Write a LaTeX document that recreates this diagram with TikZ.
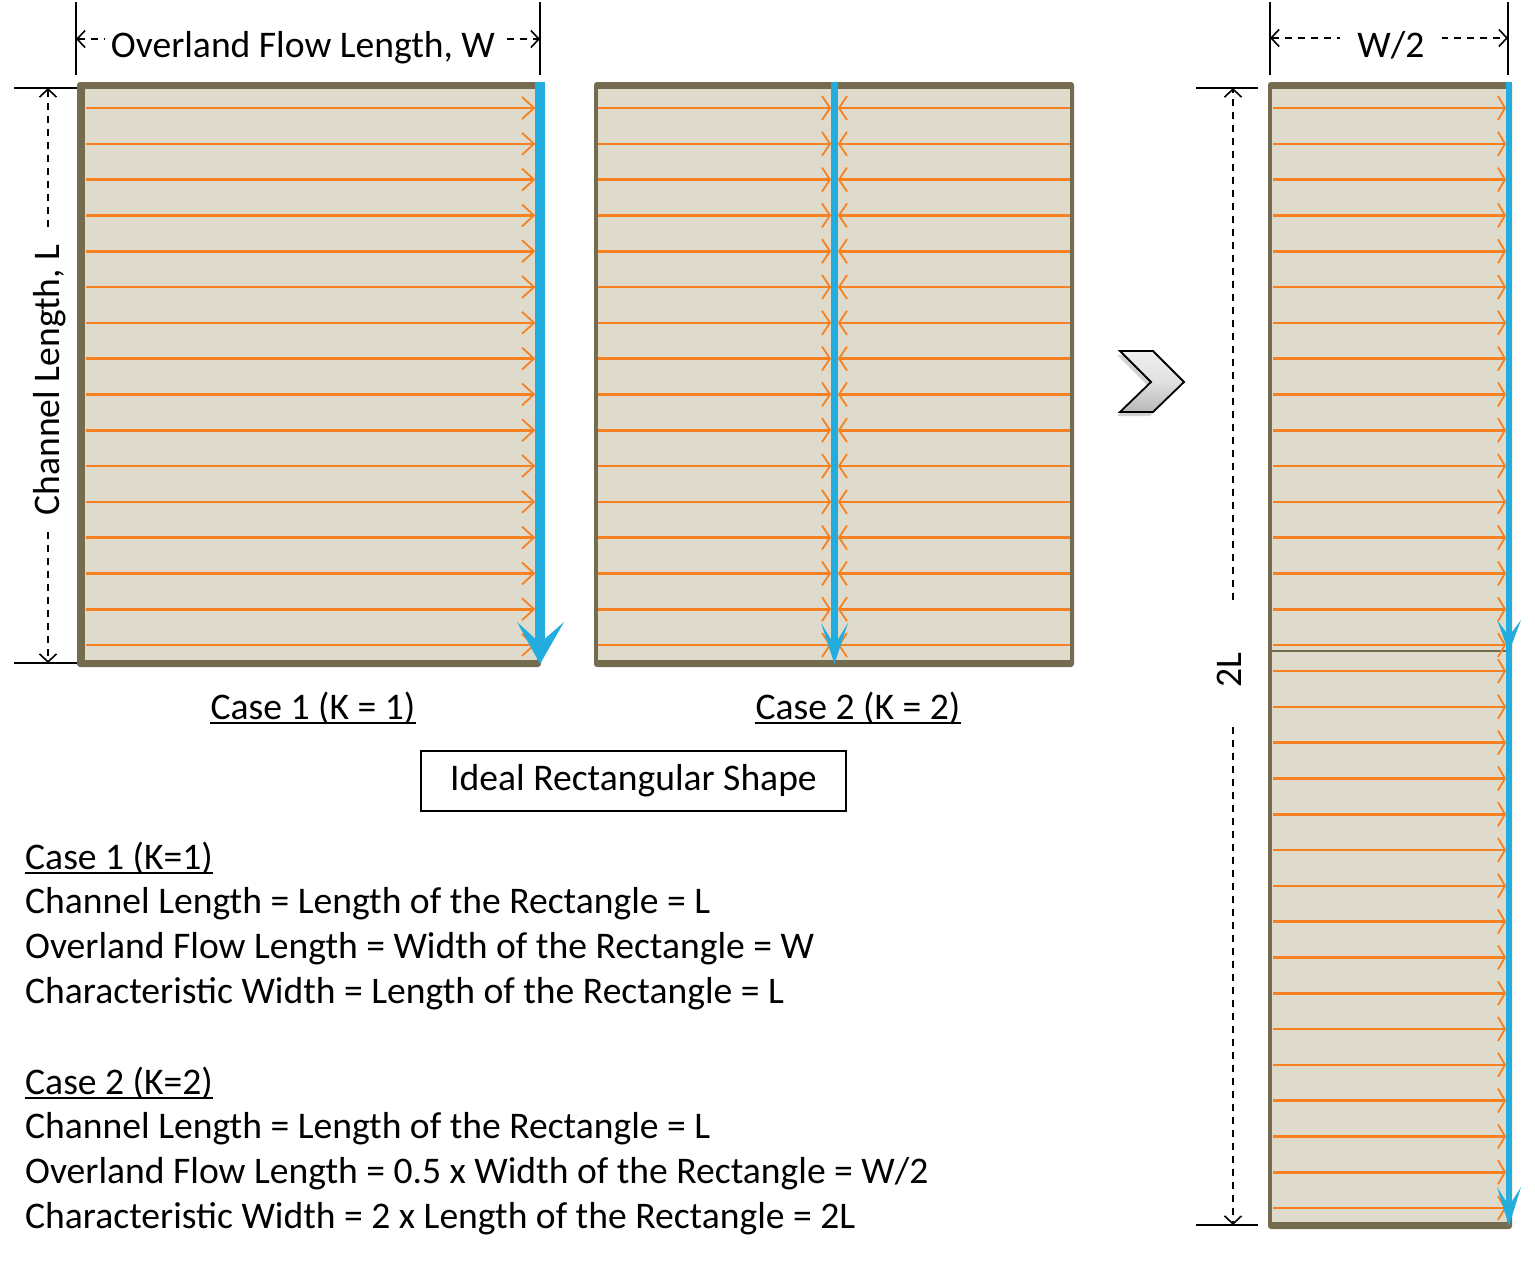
\documentclass[tikz,border=0pt]{standalone}
\usepackage{fontspec}
\setmainfont{Carlito}
\usetikzlibrary{arrows.meta}
\definecolor{frame}{RGB}{117,107,78}
\definecolor{land}{RGB}{223,219,204}
\definecolor{flow}{RGB}{247,129,32}
\definecolor{chan}{RGB}{35,172,222}
\tikzset{dtip/.tip={Straight Barb[length=8pt,width=17pt,line width=1.6pt]}}
\begin{document}
\begin{tikzpicture}[x=1pt,y=-1pt,
  txt/.style={inner sep=0pt, font=\fontsize{37.6}{44}\selectfont},
  dimline/.style={line width=1.6pt, dash pattern=on 7pt off 6pt},
  tick/.style={line width=1.6pt},
  ov/.style={flow, line width=2.6pt},
  ovtip/.style={flow, line width=1.8pt, line join=miter},
  uline/.style={line width=1.8pt}]
\useasboundingbox (0,0) rectangle (1535,1264);
\fill[white] (0,0) rectangle (1535,1264);

% ---------- Rectangle 1 ----------
\fill[frame, rounded corners=3pt] (77,82) rectangle (541,667);
\fill[land] (85,89) rectangle (537,660);
\foreach \i in {0,...,15}{
  \pgfmathsetmacro\yy{108+35.8*\i}
  \draw[ov] (86,\yy) -- (534,\yy);
  \draw[ovtip] (522,\yy-11) -- (534,\yy) -- (522,\yy+11);
}
\fill[chan] (535,82) rectangle (545,645);
\fill[chan] (517,622) -- (540,664) -- (564,622) -- (540,643) -- cycle;

% ---------- Rectangle 2 ----------
\fill[frame, rounded corners=3pt] (594,82) rectangle (1074,667);
\fill[land] (598,89) rectangle (1070,660);
\foreach \i in {0,...,15}{
  \pgfmathsetmacro\yy{108+35.8*\i}
  \draw[ov] (598,\yy) -- (830,\yy);
  \draw[ov] (1070,\yy) -- (839,\yy);
  \draw[ovtip] (822,\yy-12) -- (830,\yy) -- (822,\yy+12);
  \draw[ovtip] (847,\yy-12) -- (839,\yy) -- (847,\yy+12);
}
\fill[chan] (831,82) rectangle (838,645);
\fill[chan] (821,623) -- (834.5,664) -- (848,623) -- (834.5,645) -- cycle;

% ---------- Rectangle 3 ----------
\fill[frame, rounded corners=3pt] (1268,82) rectangle (1512,1229);
\fill[land] (1272,89) rectangle (1507,1222);
\draw[frame, line width=1.5pt] (1272,651) -- (1507,651);
\foreach \i in {0,...,15}{
  \pgfmathsetmacro\yy{108+35.8*\i}
  \pgfmathsetmacro\zz{671+35.8*\i}
  \draw[ov] (1273,\yy) -- (1505,\yy);
  \draw[ovtip] (1498,\yy-12) -- (1505,\yy) -- (1498,\yy+12);
  \draw[ov] (1273,\zz) -- (1505,\zz);
  \draw[ovtip] (1498,\zz-12) -- (1505,\zz) -- (1498,\zz+12);
}
\fill[chan] (1506,82) rectangle (1512,1205);
\fill[chan] (1497,620) -- (1509,652) -- (1521,620) -- (1509,636) -- cycle;
\fill[chan] (1497,1187) -- (1509,1226) -- (1521,1187) -- (1509,1206) -- cycle;

% ---------- Dimension: Overland Flow Length, W ----------
\draw[tick] (76,2) -- (76,75);
\draw[tick] (540,2) -- (540,75);
\coordinate (wl) at (76,39);
\coordinate (wr) at (540,39);
\draw[dimline, dtip-dtip] (wl) -- (wr);
\node[txt, anchor=base, fill=white, inner xsep=6pt] (wlab) at (303,57) {Overland Flow Length, W};

% ---------- Dimension: W/2 ----------
\draw[tick] (1270,2) -- (1270,75);
\draw[tick] (1508,2) -- (1508,75);
\coordinate (hl) at (1270,38);
\coordinate (hr) at (1508,38);
\draw[dimline, dtip-dtip] (hl) -- (hr);
\node[txt, anchor=base, fill=white, inner xsep=17pt] (hlab) at (1391,57) {W/2};

% ---------- Dimension: Channel Length, L ----------
\draw[tick] (14,88) -- (77,88);
\draw[tick] (14,663) -- (77,663);
\coordinate (lt) at (48,88);
\coordinate (lb) at (48,663);
\draw[dimline, dtip-dtip] (lt) -- (lb);
\node[txt, rotate=90, anchor=base, fill=white, inner xsep=12pt] (llab) at (59,380) {Channel Length, L};

% ---------- Dimension: 2L ----------
\draw[tick] (1196,88) -- (1258,88);
\draw[tick] (1196,1225) -- (1258,1225);
\coordinate (tt) at (1233,88);
\coordinate (tb) at (1233,1225);
\coordinate (tu) at (1233,600);
\coordinate (td) at (1233,727);
\draw[dimline, -dtip] (tu) -- (tt);
\draw[dimline, -dtip] (td) -- (tb);
\node[txt, rotate=90, anchor=base] (tlab) at (1241,670) {2L};

% ---------- Chevron ----------
\fill[black!18] (1117,355) -- (1150,355) -- (1181,386) -- (1150,416) -- (1117,416) -- (1148,386) -- cycle;
\draw[line width=1.8pt, line join=miter, top color=black!6, bottom color=black!28, middle color=black!12]
  (1120,351) -- (1153,351) -- (1184,382) -- (1153,412) -- (1120,412) -- (1151,382) -- cycle;

% ---------- Case labels ----------
\node[txt, anchor=base] (c1) at (313,719) {Case 1 (K = 1)};
\draw[uline] ([yshift=-4pt]c1.base west) -- ([yshift=-4pt]c1.base east);
\node[txt, anchor=base] (c2) at (858,719) {Case 2 (K = 2)};
\draw[uline] ([yshift=-4pt]c2.base west) -- ([yshift=-4pt]c2.base east);

\node[draw, line width=1.5pt, minimum width=425pt, minimum height=60pt, inner sep=0pt,
  font=\fontsize{37.6}{44}\selectfont] (ideal) at (633.5,781) {Ideal Rectangular Shape};

% ---------- Text block ----------
\node[txt, anchor=base west] (k1) at (25,869) {Case 1 (K=1)};
\draw[uline] ([yshift=-4pt]k1.base west) -- ([yshift=-4pt]k1.base east);
\node[txt, anchor=base west] (a1) at (25,913.5) {Channel Length = Length of the Rectangle = L};
\node[txt, anchor=base west] (a2) at (25,958.5) {Overland Flow Length = Width of the Rectangle = W};
\node[txt, anchor=base west] (a3) at (25,1003.5) {Characteristic Width = Length of the Rectangle = L};

\node[txt, anchor=base west] (k2) at (25,1094) {Case 2 (K=2)};
\draw[uline] ([yshift=-4pt]k2.base west) -- ([yshift=-4pt]k2.base east);
\node[txt, anchor=base west] (b1) at (25,1138.5) {Channel Length = Length of the Rectangle = L};
\node[txt, anchor=base west] (b2) at (25,1183.5) {Overland Flow Length = 0.5 x Width of the Rectangle = W/2};
\node[txt, anchor=base west] (b3) at (25,1228.5) {Characteristic Width = 2 x Length of the Rectangle = 2L};
\end{tikzpicture}
\end{document}
